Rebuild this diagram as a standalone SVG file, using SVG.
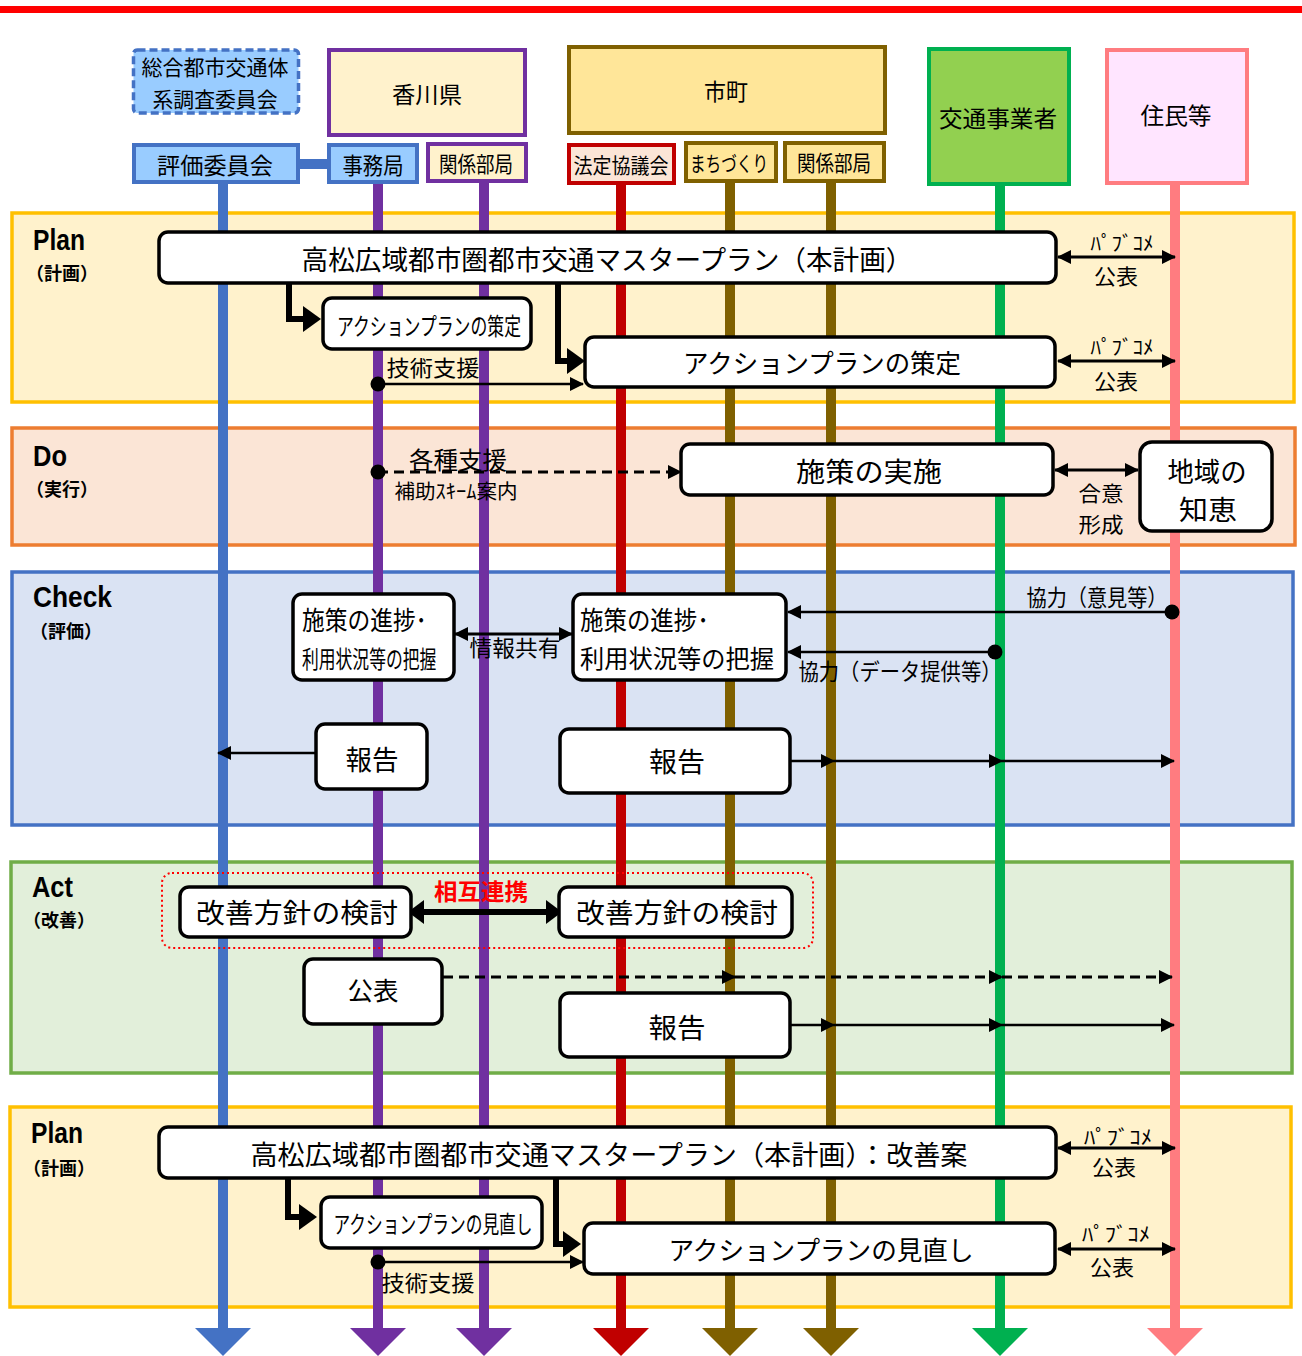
<svg xmlns="http://www.w3.org/2000/svg" width="1302" height="1356" viewBox="0 0 1302 1356">
<style>
  .jp { font-family: "Noto Sans CJK JP", "Noto Sans", sans-serif; fill: #000; }
  .c { text-anchor: middle; }
  .ph { font-family: "Liberation Sans", Arial, sans-serif; font-weight: bold; font-size: 29px; fill: #000; }
  .phs { font-family: "Noto Sans CJK JP", sans-serif; font-weight: bold; font-size: 18px; fill: #000; }
  .box { fill: #fff; stroke: #000; stroke-width: 3.5; }
  .lane { stroke-width: 10; fill: none; }
  .thin { stroke: #000; stroke-width: 2.5; fill: none; }
  .mid { stroke: #000; stroke-width: 3; fill: none; }
  .dash { stroke: #000; stroke-width: 3; fill: none; stroke-dasharray: 10 6; }
  .thick { stroke: #000; stroke-width: 6; fill: none; }
</style>
<defs>
  <marker id="arr" viewBox="0 0 14 14" refX="13" refY="7" markerWidth="14" markerHeight="14" markerUnits="userSpaceOnUse" orient="auto-start-reverse">
    <path d="M0,0 L14,7 L0,14 z" fill="#000"/>
  </marker>
  <marker id="arrBig" viewBox="0 0 18 26" refX="4" refY="13" markerWidth="18" markerHeight="26" markerUnits="userSpaceOnUse" orient="auto">
    <path d="M0,0 L18,13 L0,26 z" fill="#000"/>
  </marker>
  <marker id="arrDbl" viewBox="0 0 16 24" refX="6" refY="12" markerWidth="16" markerHeight="24" markerUnits="userSpaceOnUse" orient="auto-start-reverse">
    <path d="M0,0 L16,12 L0,24 z" fill="#000"/>
  </marker>
</defs>

<rect x="0" y="0" width="1302" height="1356" fill="#fff"/>
<rect x="0" y="6" width="1302" height="7" fill="#FF0000"/>

<!-- PDCA phase bands -->
<g id="phases">
  <rect x="12" y="213" width="1282" height="189" fill="#FFF2CC" stroke="#FFC000" stroke-width="3.5"/>
  <rect x="12" y="428" width="1283" height="117" fill="#FBE5D6" stroke="#ED7D31" stroke-width="3.5"/>
  <rect x="12" y="572" width="1281" height="253" fill="#DAE3F3" stroke="#4472C4" stroke-width="3.5"/>
  <rect x="11" y="862" width="1281" height="211" fill="#E2EFDA" stroke="#70AD47" stroke-width="3.5"/>
  <rect x="10" y="1107" width="1281" height="200" fill="#FFF2CC" stroke="#FFC000" stroke-width="3.5"/>

  <text class="ph" x="33" y="250" textLength="52" lengthAdjust="spacingAndGlyphs">Plan</text>
  <text class="phs" x="26" y="280">（計画）</text>
  <text class="ph" x="33" y="466" textLength="34" lengthAdjust="spacingAndGlyphs">Do</text>
  <text class="phs" x="26" y="496">（実行）</text>
  <text class="ph" x="33" y="607" textLength="79" lengthAdjust="spacingAndGlyphs">Check</text>
  <text class="phs" x="30" y="638">（評価）</text>
  <text class="ph" x="32" y="897" textLength="41" lengthAdjust="spacingAndGlyphs">Act</text>
  <text class="phs" x="23" y="927">（改善）</text>
  <text class="ph" x="31" y="1143" textLength="52" lengthAdjust="spacingAndGlyphs">Plan</text>
  <text class="phs" x="23" y="1175">（計画）</text>
</g>

<!-- lifelines of each actor -->
<g id="lifelines">
  <line class="lane" x1="223" y1="182" x2="223" y2="1330" stroke="#4472C4"/>
  <polygon points="195,1328 251,1328 223,1356" fill="#4472C4"/>
  <line class="lane" x1="378" y1="182" x2="378" y2="1330" stroke="#7030A0"/>
  <polygon points="350,1328 406,1328 378,1356" fill="#7030A0"/>
  <line class="lane" x1="484" y1="182" x2="484" y2="1330" stroke="#7030A0"/>
  <polygon points="456,1328 512,1328 484,1356" fill="#7030A0"/>
  <line class="lane" x1="621" y1="182" x2="621" y2="1330" stroke="#C00000"/>
  <polygon points="593,1328 649,1328 621,1356" fill="#C00000"/>
  <line class="lane" x1="730" y1="180" x2="730" y2="1330" stroke="#7F6000"/>
  <polygon points="702,1328 758,1328 730,1356" fill="#7F6000"/>
  <line class="lane" x1="831" y1="180" x2="831" y2="1330" stroke="#7F6000"/>
  <polygon points="803,1328 859,1328 831,1356" fill="#7F6000"/>
  <line class="lane" x1="1000" y1="184" x2="1000" y2="1330" stroke="#00B050"/>
  <polygon points="972,1328 1028,1328 1000,1356" fill="#00B050"/>
  <line class="lane" x1="1175" y1="182" x2="1175" y2="1330" stroke="#FF7C80"/>
  <polygon points="1147,1328 1203,1328 1175,1356" fill="#FF7C80"/>
</g>

<!-- actor headers -->
<g id="hdr-sougou">
  <rect x="133.5" y="50" width="165" height="63" rx="4" fill="#99CCFF" stroke="#4472C4" stroke-width="3.5" stroke-dasharray="8 4"/>
  <text class="jp c" x="215" y="75" font-size="21" textLength="147" lengthAdjust="spacingAndGlyphs">総合都市交通体</text>
  <text class="jp c" x="215" y="107" font-size="21" textLength="125" lengthAdjust="spacingAndGlyphs">系調査委員会</text>
</g>
<g id="hdr-kagawa">
  <rect x="329" y="50" width="196" height="85" fill="#FFF2CC" stroke="#7030A0" stroke-width="4"/>
  <text class="jp c" x="427" y="103" font-size="23" textLength="70" lengthAdjust="spacingAndGlyphs">香川県</text>
</g>
<rect x="298" y="159" width="32" height="10" fill="#4472C4"/>
<g id="hdr-hyouka">
  <rect x="134" y="145" width="164" height="37" fill="#99CCFF" stroke="#4472C4" stroke-width="4"/>
  <text class="jp c" x="215" y="174" font-size="23" textLength="116" lengthAdjust="spacingAndGlyphs">評価委員会</text>
</g>
<g id="hdr-jimukyoku">
  <rect x="329" y="145" width="88" height="37" fill="#99CCFF" stroke="#4472C4" stroke-width="4"/>
  <text class="jp c" x="373" y="174" font-size="23" textLength="61" lengthAdjust="spacingAndGlyphs">事務局</text>
</g>
<g id="hdr-kagawa-bukyoku">
  <rect x="428" y="144" width="98" height="37" fill="#FFF2CC" stroke="#7030A0" stroke-width="4"/>
  <text class="jp c" x="476" y="172" font-size="22" textLength="74" lengthAdjust="spacingAndGlyphs">関係部局</text>
</g>
<g id="hdr-shicho">
  <rect x="569" y="47" width="316" height="86" fill="#FFE699" stroke="#7F6000" stroke-width="4"/>
  <text class="jp c" x="726" y="100" font-size="23" textLength="44" lengthAdjust="spacingAndGlyphs">市町</text>
</g>
<g id="hdr-houtei">
  <rect x="569" y="145" width="105" height="38" fill="#FBE5D6" stroke="#C00000" stroke-width="4"/>
  <text class="jp c" x="621" y="173" font-size="21" textLength="95" lengthAdjust="spacingAndGlyphs">法定協議会</text>
</g>
<g id="hdr-machizukuri">
  <rect x="686" y="143" width="90" height="38" fill="#FFE699" stroke="#7F6000" stroke-width="4"/>
  <text class="jp c" x="729" y="171" font-size="21" textLength="78" lengthAdjust="spacingAndGlyphs">まちづくり</text>
</g>
<g id="hdr-shicho-bukyoku">
  <rect x="785" y="143" width="99" height="38" fill="#FFE699" stroke="#7F6000" stroke-width="4"/>
  <text class="jp c" x="834" y="171" font-size="22" textLength="74" lengthAdjust="spacingAndGlyphs">関係部局</text>
</g>
<g id="hdr-koutsu">
  <rect x="929" y="49" width="140" height="135" fill="#92D050" stroke="#00B050" stroke-width="4"/>
  <text class="jp c" x="998" y="127" font-size="23" textLength="118" lengthAdjust="spacingAndGlyphs">交通事業者</text>
</g>
<g id="hdr-jumin">
  <rect x="1107" y="50" width="140" height="133" fill="#FFE5FF" stroke="#FF7C80" stroke-width="4"/>
  <text class="jp c" x="1176" y="124" font-size="23" textLength="71" lengthAdjust="spacingAndGlyphs">住民等</text>
</g>

<!-- messages between actors -->
<g id="connectors">
  <!-- Plan -->
  <path class="thick" d="M289,283 V319 H307" marker-end="url(#arrBig)"/>
  <path class="thick" d="M558,283 V361 H571" marker-end="url(#arrBig)"/>
  <circle cx="378" cy="384" r="7.5" fill="#000"/>
  <line class="thin" x1="378" y1="384" x2="583" y2="384" marker-end="url(#arr)"/>
  <text class="jp c" x="433" y="376" font-size="22" textLength="93" lengthAdjust="spacingAndGlyphs">技術支援</text>
  <line class="mid" x1="1058" y1="257" x2="1175" y2="257" marker-start="url(#arr)" marker-end="url(#arr)"/>
  <text class="jp c" x="1122" y="251" font-size="20" textLength="63" lengthAdjust="spacingAndGlyphs">ﾊﾟﾌﾞｺﾒ</text>
  <text class="jp c" x="1116" y="284" font-size="21" textLength="44" lengthAdjust="spacingAndGlyphs">公表</text>
  <line class="mid" x1="1058" y1="361" x2="1175" y2="361" marker-start="url(#arr)" marker-end="url(#arr)"/>
  <text class="jp c" x="1122" y="355" font-size="20" textLength="63" lengthAdjust="spacingAndGlyphs">ﾊﾟﾌﾞｺﾒ</text>
  <text class="jp c" x="1116" y="389" font-size="21" textLength="44" lengthAdjust="spacingAndGlyphs">公表</text>

  <!-- Do -->
  <circle cx="378" cy="472" r="7.5" fill="#000"/>
  <line class="dash" x1="378" y1="472" x2="681" y2="472" marker-end="url(#arr)"/>
  <text class="jp c" x="458" y="469" font-size="24" textLength="98" lengthAdjust="spacingAndGlyphs">各種支援</text>
  <text class="jp c" x="456" y="499" font-size="20" textLength="123" lengthAdjust="spacingAndGlyphs">補助ｽｷｰﾑ案内</text>
  <line class="mid" x1="1055" y1="470" x2="1138" y2="470" marker-start="url(#arr)" marker-end="url(#arr)"/>
  <text class="jp c" x="1101" y="501" font-size="21" textLength="45" lengthAdjust="spacingAndGlyphs">合意</text>
  <text class="jp c" x="1101" y="532" font-size="21" textLength="45" lengthAdjust="spacingAndGlyphs">形成</text>

  <!-- Check -->
  <line class="mid" x1="455" y1="634" x2="572" y2="634" marker-start="url(#arr)" marker-end="url(#arr)"/>
  <text class="jp c" x="515" y="656" font-size="22" textLength="91" lengthAdjust="spacingAndGlyphs">情報共有</text>
  <circle cx="1172" cy="612" r="7.5" fill="#000"/>
  <line class="thin" x1="1172" y1="612" x2="788" y2="612" marker-end="url(#arr)"/>
  <text class="jp c" x="1097" y="606" font-size="23" textLength="141" lengthAdjust="spacingAndGlyphs">協力（意見等）</text>
  <circle cx="995" cy="652" r="7.5" fill="#000"/>
  <line class="thin" x1="995" y1="652" x2="788" y2="652" marker-end="url(#arr)"/>
  <text class="jp c" x="900" y="680" font-size="22.5" textLength="203" lengthAdjust="spacingAndGlyphs">協力（データ提供等）</text>
  <line class="thin" x1="316" y1="753" x2="218" y2="753" marker-end="url(#arr)"/>
  <line class="thin" x1="790" y1="761" x2="834" y2="761" marker-end="url(#arr)"/>
  <line class="thin" x1="834" y1="761" x2="1002" y2="761" marker-end="url(#arr)"/>
  <line class="thin" x1="1002" y1="761" x2="1174" y2="761" marker-end="url(#arr)"/>

  <!-- Act -->
  <rect x="162" y="873" width="651" height="75" rx="10" fill="none" stroke="#FF0000" stroke-width="2" stroke-dasharray="2 3"/>
  <text class="jp c" x="481" y="900" font-size="23" font-weight="bold" style="fill:#FF0000" textLength="94" lengthAdjust="spacingAndGlyphs">相互連携</text>
  <line class="thick" x1="418" y1="912" x2="552" y2="912" marker-start="url(#arrDbl)" marker-end="url(#arrDbl)"/>
  <line class="dash" x1="443" y1="977" x2="735" y2="977" marker-end="url(#arr)"/>
  <line class="dash" x1="735" y1="977" x2="1002" y2="977" marker-end="url(#arr)"/>
  <line class="dash" x1="1002" y1="977" x2="1172" y2="977" marker-end="url(#arr)"/>
  <line class="thin" x1="790" y1="1025" x2="834" y2="1025" marker-end="url(#arr)"/>
  <line class="thin" x1="834" y1="1025" x2="1002" y2="1025" marker-end="url(#arr)"/>
  <line class="thin" x1="1002" y1="1025" x2="1174" y2="1025" marker-end="url(#arr)"/>

  <!-- Plan (revision) -->
  <path class="thick" d="M288,1178 V1217 H303" marker-end="url(#arrBig)"/>
  <path class="thick" d="M556,1178 V1244 H567" marker-end="url(#arrBig)"/>
  <circle cx="378" cy="1262" r="7.5" fill="#000"/>
  <line class="thin" x1="378" y1="1262" x2="583" y2="1262" marker-end="url(#arr)"/>
  <text class="jp c" x="428" y="1291" font-size="22" textLength="93" lengthAdjust="spacingAndGlyphs">技術支援</text>
  <line class="mid" x1="1058" y1="1148" x2="1175" y2="1148" marker-start="url(#arr)" marker-end="url(#arr)"/>
  <text class="jp c" x="1118" y="1145" font-size="20" textLength="68" lengthAdjust="spacingAndGlyphs">ﾊﾟﾌﾞｺﾒ</text>
  <text class="jp c" x="1114" y="1175" font-size="21" textLength="44" lengthAdjust="spacingAndGlyphs">公表</text>
  <line class="mid" x1="1058" y1="1249" x2="1175" y2="1249" marker-start="url(#arr)" marker-end="url(#arr)"/>
  <text class="jp c" x="1116" y="1242" font-size="20" textLength="68" lengthAdjust="spacingAndGlyphs">ﾊﾟﾌﾞｺﾒ</text>
  <text class="jp c" x="1112" y="1275" font-size="21" textLength="44" lengthAdjust="spacingAndGlyphs">公表</text>
</g>

<!-- activity boxes -->
<g id="plan-master">
  <rect class="box" x="159" y="232" width="897" height="51" rx="9"/>
  <text class="jp c" x="607" y="270" font-size="27" textLength="611" lengthAdjust="spacingAndGlyphs">高松広域都市圏都市交通マスタープラン（本計画）</text>
</g>
<g id="plan-ap-kagawa">
  <rect class="box" x="323" y="298" width="208" height="51" rx="9"/>
  <text class="jp c" x="429" y="335" font-size="24" textLength="184" lengthAdjust="spacingAndGlyphs">アクションプランの策定</text>
</g>
<g id="plan-ap-shicho">
  <rect class="box" x="585" y="337" width="470" height="50" rx="9"/>
  <text class="jp c" x="822" y="373" font-size="26" textLength="278" lengthAdjust="spacingAndGlyphs">アクションプランの策定</text>
</g>
<g id="do-shisaku">
  <rect class="box" x="681" y="444" width="372" height="51" rx="9"/>
  <text class="jp c" x="869" y="482" font-size="27" textLength="146" lengthAdjust="spacingAndGlyphs">施策の実施</text>
</g>
<g id="do-chie">
  <rect class="box" x="1140" y="442" width="132" height="89" rx="12"/>
  <text class="jp c" x="1207" y="482" font-size="27" textLength="79" lengthAdjust="spacingAndGlyphs">地域の</text>
  <text class="jp c" x="1208" y="520" font-size="27" textLength="58" lengthAdjust="spacingAndGlyphs">知恵</text>
</g>
<g id="check-haaku-kagawa">
  <rect class="box" x="293" y="594" width="161" height="86" rx="9"/>
  <text class="jp" x="302" y="630" font-size="26" textLength="125" lengthAdjust="spacingAndGlyphs">施策の進捗･</text>
  <text class="jp" transform="translate(302,668) scale(0.7,1)" x="0" y="0" font-size="24">利用状況等の把握</text>
</g>
<g id="check-haaku-shicho">
  <rect class="box" x="573" y="594" width="213" height="86" rx="9"/>
  <text class="jp" x="580" y="630" font-size="26" textLength="129" lengthAdjust="spacingAndGlyphs">施策の進捗･</text>
  <text class="jp" x="580" y="668" font-size="25" textLength="194" lengthAdjust="spacingAndGlyphs">利用状況等の把握</text>
</g>
<g id="check-houkoku-kagawa">
  <rect class="box" x="316" y="724" width="111" height="65" rx="9"/>
  <text class="jp c" x="372" y="770" font-size="27" textLength="53" lengthAdjust="spacingAndGlyphs">報告</text>
</g>
<g id="check-houkoku-shicho">
  <rect class="box" x="560" y="729" width="230" height="64" rx="9"/>
  <text class="jp c" x="677" y="772" font-size="27" textLength="56" lengthAdjust="spacingAndGlyphs">報告</text>
</g>
<g id="act-kentou-kagawa">
  <rect class="box" x="180" y="887" width="231" height="50" rx="9"/>
  <text class="jp c" x="297" y="923" font-size="27" textLength="202" lengthAdjust="spacingAndGlyphs">改善方針の検討</text>
</g>
<g id="act-kentou-shicho">
  <rect class="box" x="559" y="887" width="233" height="50" rx="9"/>
  <text class="jp c" x="677" y="923" font-size="27" textLength="202" lengthAdjust="spacingAndGlyphs">改善方針の検討</text>
</g>
<g id="act-kouhyou">
  <rect class="box" x="304" y="959" width="138" height="65" rx="9"/>
  <text class="jp c" x="373" y="1000" font-size="25" textLength="51" lengthAdjust="spacingAndGlyphs">公表</text>
</g>
<g id="act-houkoku">
  <rect class="box" x="560" y="993" width="230" height="64" rx="9"/>
  <text class="jp c" x="677" y="1038" font-size="27" textLength="57" lengthAdjust="spacingAndGlyphs">報告</text>
</g>
<g id="plan2-master">
  <rect class="box" x="159" y="1127" width="897" height="51" rx="9"/>
  <text class="jp c" x="609" y="1165" font-size="27" textLength="717" lengthAdjust="spacingAndGlyphs">高松広域都市圏都市交通マスタープラン（本計画）：改善案</text>
</g>
<g id="plan2-ap-kagawa">
  <rect class="box" x="321" y="1197" width="221" height="51" rx="9"/>
  <text class="jp c" x="433" y="1233" font-size="24" textLength="199" lengthAdjust="spacingAndGlyphs">アクションプランの見直し</text>
</g>
<g id="plan2-ap-shicho">
  <rect class="box" x="584" y="1223" width="471" height="51" rx="9"/>
  <text class="jp c" x="821" y="1260" font-size="26" textLength="305" lengthAdjust="spacingAndGlyphs">アクションプランの見直し</text>
</g>
</svg>
